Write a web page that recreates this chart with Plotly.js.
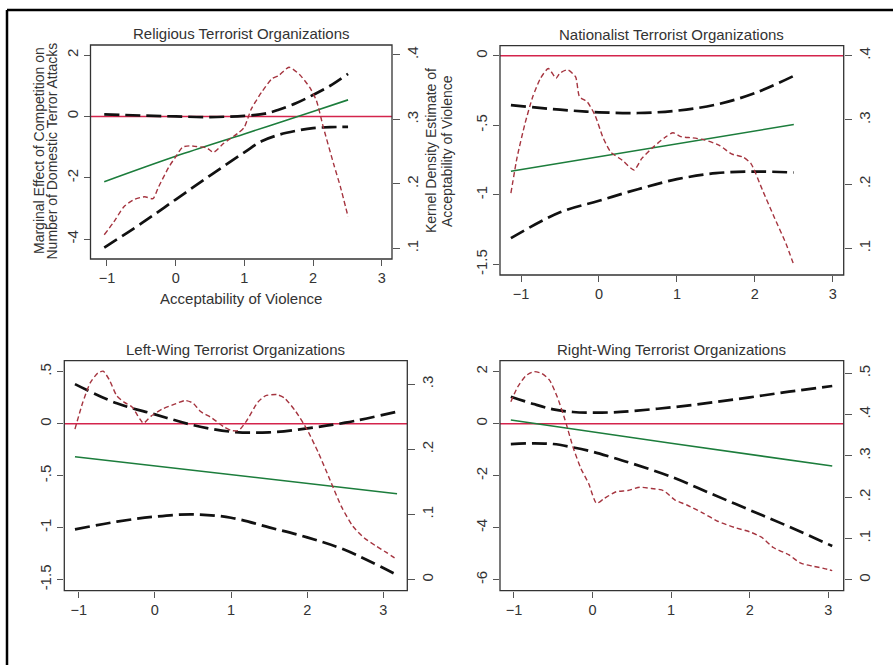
<!DOCTYPE html>
<html>
<head>
<meta charset="utf-8">
<script src="https://cdn.plot.ly/plotly-3.0.1.min.js"></script>
<style>html,body{margin:0;padding:0;background:#fff;}#chart{width:893px;height:665px;}</style>
</head>
<body>
<div id="chart"></div>
<script>
// ---------- Data ----------
var panelTitles = ["Religious Terrorist Organizations", "Nationalist Terrorist Organizations",
                   "Left-Wing Terrorist Organizations", "Right-Wing Terrorist Organizations"];
var xTickVals = [-1, 0, 1, 2, 3];
var xTitleText = "Acceptability of Violence";
var yLeftTitleLines = ["Marginal Effect of Competition on", "Number of Domestic Terror Attacks"];
var yRightTitleLines = ["Kernel Density Estimate of", "Acceptability of Violence"];

// Religious
var relEffectX = [-1.04, 0, 1, 2, 2.51];
var relEffect  = [-2.13, -1.30, -0.57, 0.16, 0.54];
var relUpperX  = [-1.04, -0.5, 0, 0.5, 1, 1.3, 1.5, 1.75, 2, 2.25, 2.51];
var relUpper   = [0.07, 0.03, 0.0, -0.02, 0.02, 0.09, 0.22, 0.43, 0.70, 1.0, 1.39];
var relLowerX  = [-1.04, -0.5, 0, 0.5, 1, 1.25, 1.5, 1.75, 2, 2.25, 2.51];
var relLower   = [-4.28, -3.49, -2.71, -1.93, -1.17, -0.81, -0.60, -0.47, -0.38, -0.35, -0.34];
var relDensX   = [-1.04, -0.9, -0.75, -0.6, -0.45, -0.33, -0.25, -0.1, 0, 0.1, 0.2, 0.3, 0.45, 0.55, 0.7, 0.9, 1.0, 1.1, 1.25, 1.4, 1.5, 1.65, 1.8, 1.95, 2.05, 2.15, 2.3, 2.4, 2.51];
var relDens    = [0.121, 0.141, 0.165, 0.176, 0.180, 0.177, 0.195, 0.226, 0.242, 0.257, 0.259, 0.258, 0.256, 0.249, 0.263, 0.278, 0.288, 0.316, 0.342, 0.363, 0.368, 0.381, 0.370, 0.350, 0.329, 0.288, 0.231, 0.195, 0.149];
var relYTicks  = [-4, -2, 0, 2];
var relYText   = ["-4", "-2", "0", "2"];
var relDTicks  = [0.1, 0.2, 0.3, 0.4];
var relDText   = [".1", ".2", ".3", ".4"];

// Nationalist
var natEffectX = [-1.13, 2.50];
var natEffect  = [-0.831, -0.495];
var natUpperX  = [-1.13, -0.5, 0, 0.5, 1, 1.5, 2, 2.5];
var natUpper   = [-0.355, -0.388, -0.407, -0.412, -0.395, -0.352, -0.269, -0.145];
var natLowerX  = [-1.13, -0.5, 0, 0.5, 1, 1.5, 2, 2.5];
var natLower   = [-1.312, -1.126, -1.043, -0.96, -0.888, -0.845, -0.833, -0.840];
var natDensX   = [-1.13, -1.05, -0.95, -0.85, -0.75, -0.65, -0.55, -0.5, -0.4, -0.3, -0.25, -0.15, -0.05, 0.05, 0.15, 0.3, 0.45, 0.55, 0.7, 0.85, 0.95, 1.05, 1.2, 1.35, 1.55, 1.7, 1.85, 1.95, 2.1, 2.25, 2.4, 2.5];
var natDens    = [0.186, 0.242, 0.294, 0.336, 0.365, 0.380, 0.365, 0.373, 0.378, 0.367, 0.336, 0.328, 0.307, 0.273, 0.250, 0.237, 0.222, 0.240, 0.258, 0.273, 0.280, 0.274, 0.272, 0.269, 0.260, 0.247, 0.242, 0.232, 0.190, 0.148, 0.107, 0.074];
var natYTicks  = [-1.5, -1, -0.5, 0];
var natYText   = ["-1.5", "-1", "-.5", "0"];
var natDTicks  = [0.1, 0.2, 0.3, 0.4];
var natDText   = [".1", ".2", ".3", ".4"];

// Left-Wing
var leftEffectX = [-1.05, 3.18];
var leftEffect  = [-0.317, -0.673];
var leftUpperX  = [-1.05, -0.5, 0, 0.5, 1, 1.5, 2, 2.5, 3.18];
var leftUpper   = [0.381, 0.196, 0.090, -0.013, -0.077, -0.083, -0.045, 0.01, 0.115];
var leftLowerX  = [-1.05, -0.5, 0, 0.5, 1, 1.5, 2, 2.5, 3.18];
var leftLower   = [-1.016, -0.942, -0.894, -0.872, -0.904, -0.997, -1.093, -1.215, -1.455];
var leftDensX   = [-1.05, -0.95, -0.85, -0.75, -0.68, -0.6, -0.5, -0.4, -0.3, -0.2, -0.15, -0.05, 0.1, 0.25, 0.4, 0.5, 0.6, 0.75, 0.9, 1.0, 1.1, 1.2, 1.35, 1.45, 1.6, 1.7, 1.85, 2.0, 2.15, 2.3, 2.45, 2.6, 2.75, 2.9, 3.05, 3.18];
var leftDens    = [0.231, 0.271, 0.302, 0.317, 0.320, 0.307, 0.282, 0.272, 0.265, 0.247, 0.240, 0.251, 0.262, 0.269, 0.275, 0.271, 0.258, 0.248, 0.235, 0.229, 0.229, 0.243, 0.272, 0.282, 0.284, 0.279, 0.258, 0.230, 0.194, 0.153, 0.112, 0.082, 0.064, 0.052, 0.041, 0.031];
var leftYTicks  = [-1.5, -1, -0.5, 0, 0.5];
var leftYText   = ["-1.5", "-1", "-.5", "0", ".5"];
var leftDTicks  = [0, 0.1, 0.2, 0.3];
var leftDText   = ["0", ".1", ".2", ".3"];

// Right-Wing
var rightEffectX = [-1.04, 1, 3.05];
var rightEffect  = [0.141, -0.75, -1.628];
var rightUpperX  = [-1.04, -0.75, -0.5, -0.25, 0, 0.25, 0.5, 1, 1.5, 2, 2.5, 3.05];
var rightUpper   = [1.04, 0.756, 0.551, 0.449, 0.423, 0.436, 0.487, 0.628, 0.808, 1.013, 1.231, 1.449];
var rightLowerX  = [-1.04, -0.75, -0.5, -0.25, 0, 0.25, 0.5, 1, 1.5, 2, 2.5, 3.05];
var rightLower   = [-0.782, -0.756, -0.782, -0.91, -1.077, -1.295, -1.526, -2.038, -2.679, -3.32, -3.96, -4.705];
var rightDensX   = [-1.04, -0.95, -0.85, -0.75, -0.65, -0.55, -0.45, -0.35, -0.25, -0.15, -0.05, 0.05, 0.15, 0.3, 0.45, 0.6, 0.75, 0.9, 1.05, 1.2, 1.4, 1.6, 1.8, 2.0, 2.15, 2.3, 2.5, 2.65, 2.8, 2.95, 3.05];
var rightDens    = [0.431, 0.468, 0.494, 0.504, 0.500, 0.484, 0.443, 0.387, 0.322, 0.270, 0.233, 0.185, 0.197, 0.213, 0.216, 0.224, 0.221, 0.216, 0.193, 0.181, 0.162, 0.141, 0.127, 0.116, 0.103, 0.078, 0.060, 0.040, 0.033, 0.027, 0.022];
var rightYTicks  = [-6, -4, -2, 0, 2];
var rightYText   = ["-6", "-4", "-2", "0", "2"];
var rightDTicks  = [0, 0.1, 0.2, 0.3, 0.4, 0.5];
var rightDText   = ["0", ".1", ".2", ".3", ".4", ".5"];

// ---------- Layout ----------
var W = 893, H = 665;
var FONT = "Liberation Sans, Arial, sans-serif";
var TXT = "#333333";
var green = "#1c7d3c", red = "#d4244c", maroon = "#a5343f";
function px(v) { return v / W; }
function py(v) { return 1 - v / H; }

var panels = [
  {effX: relEffectX, eff: relEffect, upX: relUpperX, up: relUpper, loX: relLowerX, lo: relLower, dX: relDensX, d: relDens,
   yt: relYTicks, ytx: relYText, dt: relDTicks, dtx: relDText,
   box: [90.5, 392, 45, 259], xr: [-1.24, 3.15], yr: [-4.65, 2.33], dr: [0.0834, 0.4155]},
  {effX: natEffectX, eff: natEffect, upX: natUpperX, up: natUpper, loX: natLowerX, lo: natLower, dX: natDensX, d: natDens,
   yt: natYTicks, ytx: natYText, dt: natDTicks, dtx: natDText,
   box: [500, 843.7, 45.7, 275], xr: [-1.27, 3.14], yr: [-1.577, 0.072], dr: [0.0584, 0.4156]},
  {effX: leftEffectX, eff: leftEffect, upX: leftUpperX, up: leftUpper, loX: leftLowerX, lo: leftLower, dX: leftDensX, d: leftDens,
   yt: leftYTicks, ytx: leftYText, dt: leftDTicks, dtx: leftDText,
   box: [64.3, 407.3, 360.7, 590.7], xr: [-1.19, 3.315], yr: [-1.606, 0.606], dr: [-0.0169, 0.336]},
  {effX: rightEffectX, eff: rightEffect, upX: rightUpperX, up: rightUpper, loX: rightLowerX, lo: rightLower, dX: rightDensX, d: rightDens,
   yt: rightYTicks, ytx: rightYText, dt: rightDTicks, dtx: rightDText,
   box: [500, 843.7, 360.7, 590.7], xr: [-1.178, 3.196], yr: [-6.423, 2.423], dr: [-0.0266, 0.5305]}
];

var data = [];
var layout = {
  width: W, height: H,
  margin: {l: 0, r: 0, t: 0, b: 0},
  paper_bgcolor: "#ffffff", plot_bgcolor: "rgba(0,0,0,0)",
  showlegend: false,
  font: {family: FONT, color: TXT, size: 13},
  annotations: [],
  shapes: [
    {type: "line", xref: "paper", yref: "paper", x0: px(7), x1: px(W), y0: py(10), y1: py(10), line: {color: "#000", width: 2.5}},
    {type: "line", xref: "paper", yref: "paper", x0: px(7), x1: px(7), y0: py(H), y1: py(10), line: {color: "#000", width: 2.5}}
  ]
};

var tickFontY = {size: 15, color: TXT, family: FONT};
var tickFontX = {size: 14.5, color: TXT, family: FONT};

panels.forEach(function (p, i) {
  var xa = i === 0 ? "x" : "x" + (i + 1);
  var yl = i === 0 ? "y" : "y" + (2 * i + 1);
  var yr = "y" + (2 * i + 2);
  var xKey = i === 0 ? "xaxis" : "xaxis" + (i + 1);
  var ylKey = i === 0 ? "yaxis" : "yaxis" + (2 * i + 1);
  var yrKey = "yaxis" + (2 * i + 2);
  var dom = [px(p.box[0]), px(p.box[1])];
  var ydom = [py(p.box[3]), py(p.box[2])];

  data.push({x: [p.xr[0], p.xr[1]], y: [0, 0], xaxis: xa, yaxis: yl, mode: "lines",
             line: {color: red, width: 1.6}, hoverinfo: "skip"});
  data.push({x: p.dX, y: p.d, xaxis: xa, yaxis: yr, mode: "lines",
             line: {color: maroon, width: 1.4, dash: "5px,3px", shape: "spline", smoothing: 0.6}});
  data.push({x: p.upX, y: p.up, xaxis: xa, yaxis: yl, mode: "lines",
             line: {color: "#111", width: 2.7, dash: "15px,6px", shape: "spline", smoothing: 1}});
  data.push({x: p.loX, y: p.lo, xaxis: xa, yaxis: yl, mode: "lines",
             line: {color: "#111", width: 2.7, dash: "15px,6px", shape: "spline", smoothing: 1}});
  data.push({x: p.effX, y: p.eff, xaxis: xa, yaxis: yl, mode: "lines",
             line: {color: green, width: 1.6, shape: "spline", smoothing: 1}});

  layout[xKey] = {
    domain: dom, anchor: yl, range: p.xr, tickvals: xTickVals,
    showline: false, ticks: "outside", ticklen: 6, tickcolor: "#555", tickwidth: 1,
    showgrid: false, zeroline: false, tickfont: tickFontX
  };
  layout[ylKey] = {
    domain: ydom, anchor: xa, range: p.yr, tickvals: p.yt, ticktext: p.ytx, tickangle: -90,
    showline: false, ticks: "outside", ticklen: 6, tickcolor: "#555", tickwidth: 1, ticklabelstandoff: 0,
    showgrid: false, zeroline: false, tickfont: tickFontY
  };
  layout[yrKey] = {
    domain: ydom, anchor: xa, overlaying: yl, side: "right", range: p.dr, tickvals: p.dt, ticktext: p.dtx, tickangle: -90,
    showline: false, ticks: "outside", ticklen: 7, tickcolor: "#555", tickwidth: 1, ticklabelstandoff: 0,
    showgrid: false, zeroline: false, tickfont: tickFontY
  };

  layout.shapes.push({type: "rect", xref: "paper", yref: "paper", x0: dom[0], x1: dom[1], y0: ydom[0], y1: ydom[1],
                      line: {color: "#333", width: 1.3}, fillcolor: "rgba(0,0,0,0)", layer: "above"});

  layout.annotations.push({
    xref: "paper", yref: "paper", x: (dom[0] + dom[1]) / 2, xanchor: "center", y: ydom[1], yanchor: "bottom", yshift: 1,
    text: panelTitles[i], showarrow: false, font: {size: 15, color: TXT, family: FONT}
  });
});

// Axis titles (first panel only)
layout.xaxis.title = {text: xTitleText, font: {size: 15, color: TXT, family: FONT}, standoff: 8};
[[yLeftTitleLines[0], 39], [yLeftTitleLines[1], 51.5], [yRightTitleLines[0], 431], [yRightTitleLines[1], 447]].forEach(function (t) {
  layout.annotations.push({xref: "paper", yref: "paper", x: px(t[1]), y: py(151), xanchor: "center", yanchor: "middle",
    text: t[0], textangle: -90, showarrow: false, font: {size: 14, color: TXT, family: FONT}});
});

Plotly.newPlot("chart", data, layout, {staticPlot: true, displayModeBar: false});
</script>
</body>
</html>
